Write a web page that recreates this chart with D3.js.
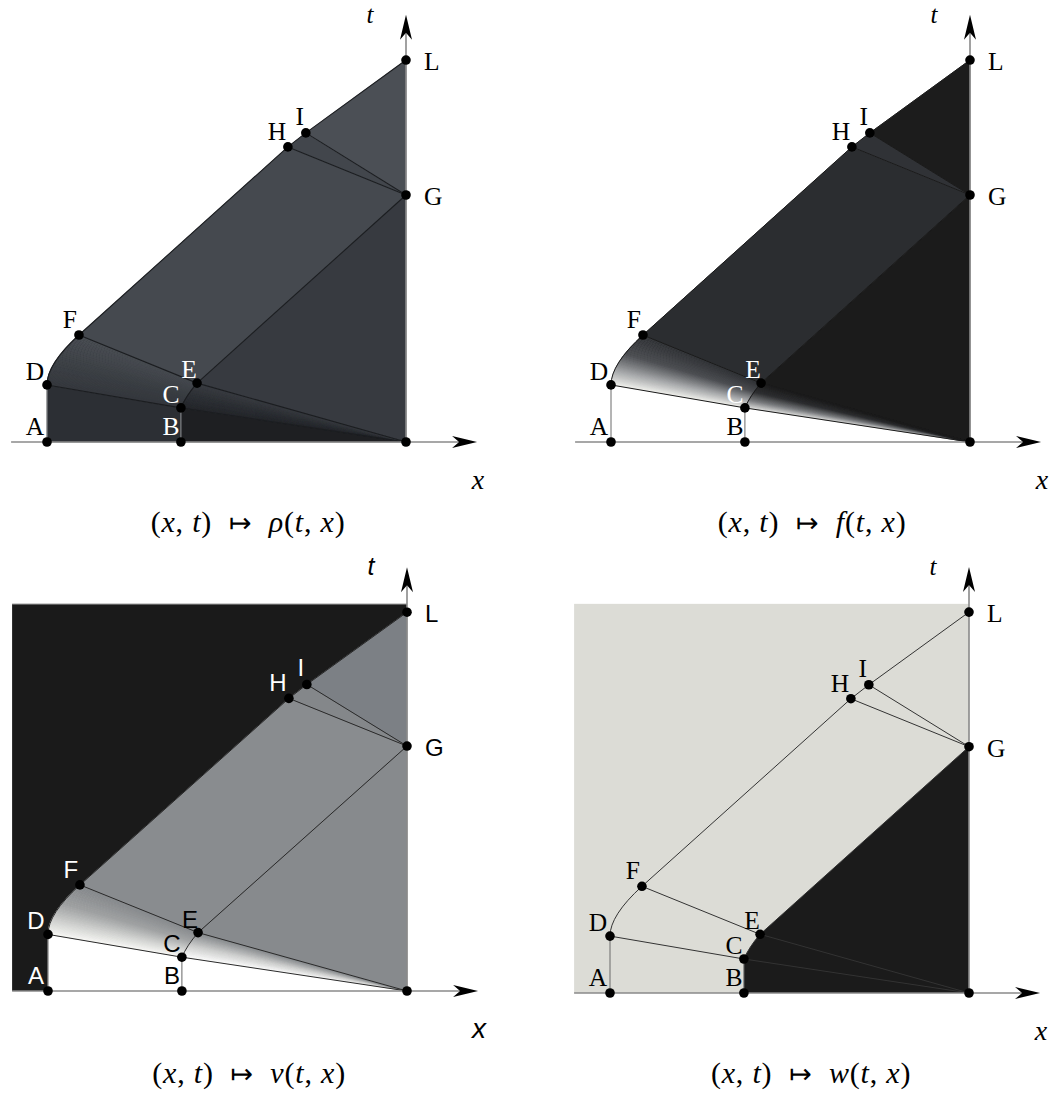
<!DOCTYPE html>
<html>
<head>
<meta charset="utf-8">
<script src="https://cdn.jsdelivr.net/npm/d3@7"></script>
<style>
  html, body { margin: 0; padding: 0; background: #ffffff; }
  svg { display: block; }
</style>
</head>
<body>
<div id="chart"></div>
<script>
// ---------------- data (x,t plane, normalised: A at x=0, axis point O at x=1) ----------------
const POINT_NAMES = ["A", "B", "C", "D", "E", "F", "G", "H", "I", "L", "O"];
const POINT_X     = [0, 0.373, 0.373, 0, 0.418, 0.089, 1, 0.671, 0.721, 1, 1];
const POINT_T     = [0, 0, 0.095, 0.159, 0.164, 0.298, 0.688, 0.822, 0.861, 1.064, 0];
const LABELLED    = ["A", "B", "C", "D", "E", "F", "G", "H", "I", "L"];
// control points of the two curved boundaries D→F and C→E
const CURVE_DF_CTRL = [0, 0.217];
const CURVE_CE_CTRL = [0.387, 0.128];
// straight segments drawn inside each panel
const SEGMENTS = [["A","D"],["B","C"],["D","C"],["C","O"],["F","E"],["E","O"],["E","G"],
                  ["F","H"],["H","I"],["I","L"],["H","G"],["I","G"]];
// panels
const PANEL_FUNCS = ["ρ", "f", "v", "w"];
const X_AXIS_RANGE = [-0.1, 1.198];
const T_AXIS_TOP = 1.19;
const BACK_TOP = 1.087;

// ---------------- layout / styles ----------------
const W = 1054, H = 1099;
const panels = [
  { ox: 47,  oy: 442, sx: 359, sy: 359, font: "Liberation Serif", cap: 532 },
  { ox: 611, oy: 442, sx: 359, sy: 359, font: "Liberation Serif", cap: 532 },
  { ox: 48,  oy: 991, sx: 359, sy: 356, font: "Liberation Sans",  cap: 1083 },
  { ox: 610, oy: 993, sx: 359, sy: 358, font: "Liberation Serif", cap: 1083 }
];
const regionColors = [
  { ABCD: "#2c2f34", BOC: "#1e1f22", FHGE: "#45494f", EGO: "#373a40", HIG: "#42464c", ILG: "#4b4f55",
    fan1: ["#33363b", "#383c41", "#42464c"], fan2: ["#24262a", "#2c2f34", "#383b40"],
    line: "#1b1d20", back: null, backTop: null },
  { ABCD: null, BOC: null, FHGE: "#2b2d30", EGO: "#1b1b1b", HIG: "#303236", ILG: "#1c1c1c",
    fan1: ["#f4f4f0", "#a4a6a8", "#4a4c50", "#2d2f33"], fan2: ["#e8e8e6", "#7a7c7f", "#2e2f31", "#1d1d1d"],
    line: "#1a1a1a", back: null },
  { ABCD: "#ffffff", BOC: "#ffffff", FHGE: "#898c8f", EGO: "#878a8d", HIG: "#84878a", ILG: "#7c8085",
    fan1: ["#fcfcf9", "#d4d5d3", "#a3a5a6", "#8a8d90"], fan2: ["#ffffff", "#cfd0cf", "#8a8d90"],
    line: "#2a2a2a", back: "#1a1a1a" },
  { ABCD: null, BOC: null, FHGE: null, EGO: null, HIG: null, ILG: null,
    fan1: null, fan2: null, line: "#333333", back: "#dcdcd6" }
];
const labelColors = [
  { A: "#000", B: "#fff", C: "#fff", D: "#000", E: "#fff", F: "#000", G: "#000", H: "#000", I: "#000", L: "#000" },
  { A: "#000", B: "#000", C: "#fff", D: "#000", E: "#fff", F: "#000", G: "#000", H: "#000", I: "#000", L: "#000" },
  { A: "#fff", B: "#000", C: "#000", D: "#fff", E: "#000", F: "#fff", G: "#000", H: "#fff", I: "#fff", L: "#000" },
  { A: "#000", B: "#000", C: "#000", D: "#000", E: "#000", F: "#000", G: "#000", H: "#000", I: "#000", L: "#000" }
];
const labelOffsets = {
  A: [-12, -7, "middle"], B: [-10, -7, "middle"], C: [-10, -5, "middle"], D: [-12, -5, "middle"],
  E: [-8, -5, "middle"], F: [-9, -7, "middle"], H: [-11, -7, "middle"], I: [-6, -8, "middle"],
  L: [18, 10, "start"], G: [18, 10, "start"]
};

const svg = d3.select("#chart").append("svg").attr("width", W).attr("height", H)
  .style("background", "#fff");

function pt(name) { const i = POINT_NAMES.indexOf(name); return [POINT_X[i], POINT_T[i]]; }
function bez(p0, c, p1, s) {
  const a = (1 - s) * (1 - s), b = 2 * (1 - s) * s, d = s * s;
  return [a * p0[0] + b * c[0] + d * p1[0], a * p0[1] + b * c[1] + d * p1[1]];
}

panels.forEach((P, pi) => {
  const xs = d3.scaleLinear().domain([0, 1]).range([P.ox, P.ox + P.sx]);
  const ts = d3.scaleLinear().domain([0, 1]).range([P.oy, P.oy - P.sy]);
  const px = p => [xs(p[0]), ts(p[1])];
  const g = svg.append("g");
  const C = regionColors[pi];
  const poly = names => "M" + names.map(n => px(pt(n)).join(",")).join("L") + "Z";

  const D = pt("D"), F = pt("F"), Cp = pt("C"), E = pt("E"), O = pt("O");

  // background rectangle (panels v and w)
  if (C.back) {
    g.append("rect")
      .attr("x", xs(X_AXIS_RANGE[0])).attr("y", ts(BACK_TOP))
      .attr("width", xs(1) - xs(X_AXIS_RANGE[0])).attr("height", ts(0) - ts(BACK_TOP))
      .attr("fill", C.back);
    if (pi === 2) {
      g.append("line").attr("x1", xs(X_AXIS_RANGE[0])).attr("x2", xs(1))
        .attr("y1", ts(BACK_TOP)).attr("y2", ts(BACK_TOP))
        .attr("stroke", "#9a9a9a").attr("stroke-width", 1);
    }
  }

  // flat regions
  const flat = [["ABCD", ["A","B","C","D"]], ["BOC", ["B","O","C"]], ["FHGE", ["F","H","G","E"]],
                ["EGO", ["E","G","O"]], ["HIG", ["H","I","G"]], ["ILG", ["I","L","G"]]];
  flat.forEach(([key, names]) => {
    if (C[key]) g.append("path").attr("d", poly(names)).attr("fill", C[key])
      .attr("stroke", C[key]).attr("stroke-width", 0.6);
  });

  // fan D-F-E-C (between the two curves)
  const N = 60;
  if (C.fan1) {
    const col = d3.piecewise(d3.interpolateRgb, C.fan1);
    const strips = d3.range(N).map(i => {
      const s0 = i / N, s1 = (i + 1) / N;
      return { s: (s0 + s1) / 2,
        pts: [bez(D, CURVE_DF_CTRL, F, s0), bez(Cp, CURVE_CE_CTRL, E, s0),
              bez(Cp, CURVE_CE_CTRL, E, s1), bez(D, CURVE_DF_CTRL, F, s1)] };
    });
    g.append("g").selectAll("path").data(strips).join("path")
      .attr("d", d => "M" + d.pts.map(p => px(p).join(",")).join("L") + "Z")
      .attr("fill", d => col(d.s)).attr("stroke", d => col(d.s)).attr("stroke-width", 0.7);
  }
  // fan C-E-O (rays from O)
  if (C.fan2) {
    const col = d3.piecewise(d3.interpolateRgb, C.fan2);
    const tris = d3.range(N).map(i => {
      const s0 = i / N, s1 = (i + 1) / N;
      return { s: (s0 + s1) / 2,
        pts: [O, bez(Cp, CURVE_CE_CTRL, E, s0), bez(Cp, CURVE_CE_CTRL, E, s1)] };
    });
    g.append("g").selectAll("path").data(tris).join("path")
      .attr("d", d => "M" + d.pts.map(p => px(p).join(",")).join("L") + "Z")
      .attr("fill", d => col(d.s)).attr("stroke", d => col(d.s)).attr("stroke-width", 0.7);
  }

  // panel w: dark region B-O-G-E-(curve)-C
  if (pi === 3) {
    const path = d3.path();
    const b = px(pt("B")), o = px(O), gg = px(pt("G")), e = px(E), c = px(Cp), cc = px(CURVE_CE_CTRL);
    path.moveTo(...b); path.lineTo(...o); path.lineTo(...gg); path.lineTo(...e);
    path.quadraticCurveTo(cc[0], cc[1], c[0], c[1]); path.closePath();
    g.append("path").attr("d", path.toString()).attr("fill", "#1b1b1b");
  }

  // lines
  const lineW = pi === 0 ? 1.1 : 1;
  SEGMENTS.forEach(([a, b]) => {
    const pa = px(pt(a)), pb = px(pt(b));
    let stroke = C.line;
    if ((a === "A" && b === "D") || (a === "B" && b === "C")) stroke = pi === 0 ? "#8a8c8f" : "#6a6a6a";
    g.append("line").attr("x1", pa[0]).attr("y1", pa[1]).attr("x2", pb[0]).attr("y2", pb[1])
      .attr("stroke", stroke).attr("stroke-width", lineW);
  });
  [[D, CURVE_DF_CTRL, F], [Cp, CURVE_CE_CTRL, E]].forEach(([p0, c, p1]) => {
    const a = px(p0), cc = px(c), b = px(p1);
    const path = d3.path(); path.moveTo(...a); path.quadraticCurveTo(cc[0], cc[1], b[0], b[1]);
    g.append("path").attr("d", path.toString()).attr("fill", "none")
      .attr("stroke", C.line).attr("stroke-width", lineW);
  });

  // axes
  const axisCol = "#8a8a8a";
  const x0 = xs(X_AXIS_RANGE[0]), xTip = xs(X_AXIS_RANGE[1]), y0 = ts(0);
  g.append("line").attr("x1", x0).attr("x2", xTip - 10).attr("y1", y0).attr("y2", y0)
    .attr("stroke", axisCol).attr("stroke-width", 1.6);
  g.append("path")
    .attr("d", `M${xTip},${y0}L${xTip - 25},${y0 - 6}L${xTip - 18},${y0}L${xTip - 25},${y0 + 6}Z`)
    .attr("fill", "#000");
  const ax = xs(1), tTip = ts(T_AXIS_TOP);
  g.append("line").attr("x1", ax).attr("x2", ax).attr("y1", y0).attr("y2", tTip + 10)
    .attr("stroke", axisCol).attr("stroke-width", 1.6);
  g.append("path")
    .attr("d", `M${ax},${tTip}L${ax - 6},${tTip + 25}L${ax},${tTip + 18}L${ax + 6},${tTip + 25}Z`)
    .attr("fill", "#000");

  // points
  g.append("g").selectAll("circle").data(POINT_NAMES).join("circle")
    .attr("cx", n => px(pt(n))[0]).attr("cy", n => px(pt(n))[1]).attr("r", 4.8).attr("fill", "#000");

  // point labels
  g.append("g").selectAll("text").data(LABELLED).join("text")
    .attr("x", n => px(pt(n))[0] + labelOffsets[n][0])
    .attr("y", n => px(pt(n))[1] + labelOffsets[n][1])
    .attr("text-anchor", n => labelOffsets[n][2])
    .attr("font-family", P.font).attr("font-size", pi === 2 ? 24 : 25.5)
    .attr("fill", n => labelColors[pi][n])
    .text(n => n);

  // axis names
  g.append("text").attr("x", ax - 36).attr("y", tTip + 8).attr("text-anchor", "middle")
    .attr("font-family", P.font).attr("font-style", "italic").attr("font-size", 25).text("t");
  g.append("text").attr("x", xTip + 1).attr("y", y0 + 47).attr("text-anchor", "middle")
    .attr("font-family", P.font).attr("font-style", "italic").attr("font-size", 28).text("x");

  // caption
  const cap = svg.append("text").attr("x", (xs(X_AXIS_RANGE[0]) + xTip) / 2 + 4).attr("y", P.cap)
    .attr("text-anchor", "middle").attr("font-family", "Liberation Serif, DejaVu Serif")
    .attr("font-size", 30).attr("letter-spacing", 0.8);
  const parts = [["(", false], ["x", true], [", ", false], ["t", true], [")  ", false], ["↦", false],
                 ["  ", false], [PANEL_FUNCS[pi], true], ["(", false], ["t", true], [", ", false],
                 ["x", true], [")", false]];
  parts.forEach(([s, it]) => {
    const ts2 = cap.append("tspan").text(s).attr("xml:space", "preserve");
    if (it) ts2.attr("font-style", "italic");
    if (s === "↦") ts2.attr("font-family", "DejaVu Sans").attr("font-size", 27);
  });
  cap.style("white-space", "pre");
});
</script>
</body>
</html>
